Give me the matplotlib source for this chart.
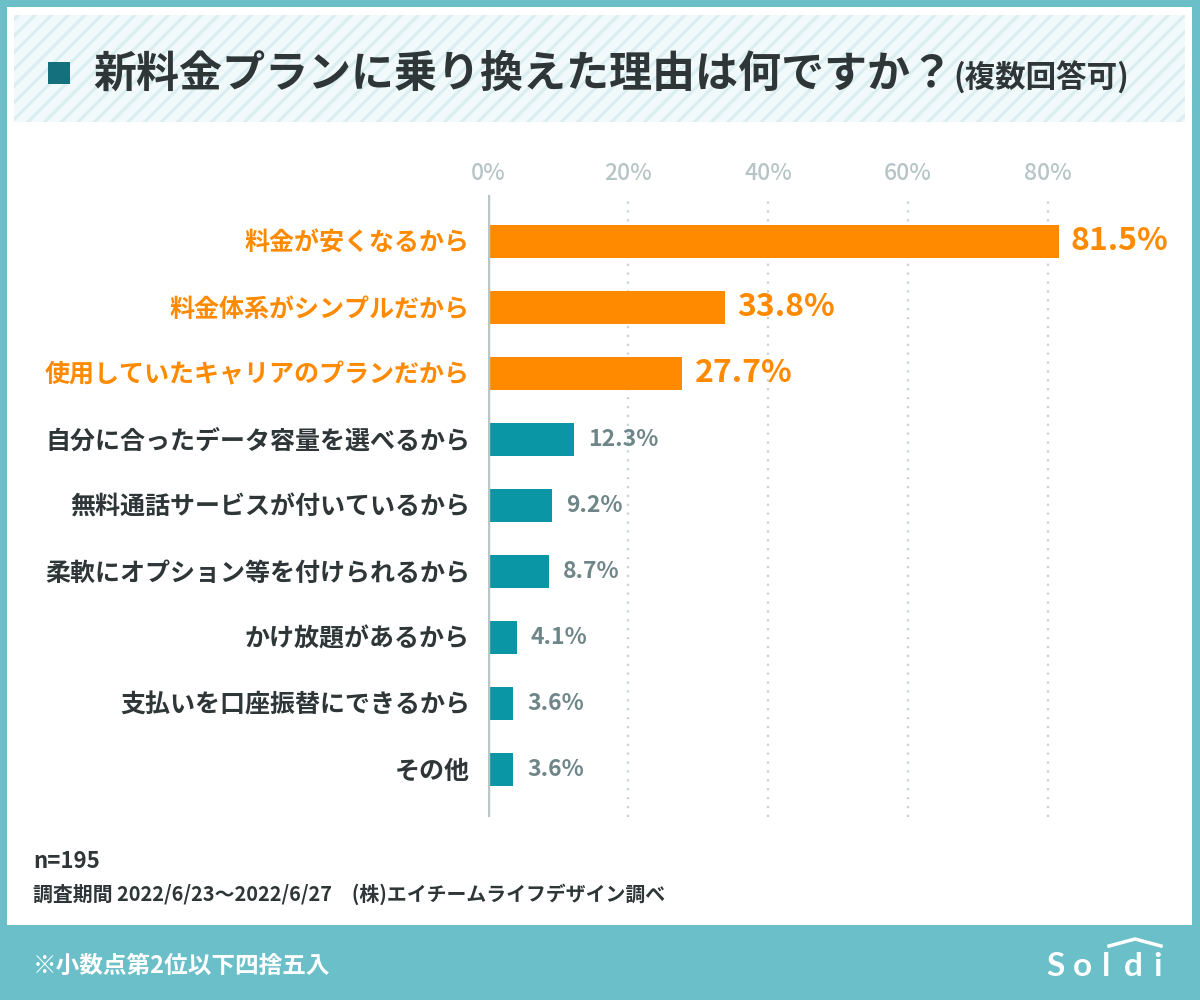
"""
新料金プランに乗り換えた理由 - horizontal bar chart (Soldi style)
"""
import matplotlib
matplotlib.use('Agg')
import matplotlib.pyplot as plt
from matplotlib.patches import Rectangle
from matplotlib.lines import Line2D

plt.rcParams['font.family'] = ['Noto Sans CJK JP', 'DejaVu Sans']
plt.rcParams['hatch.linewidth'] = 2.2

categories = [
    '料金が安くなるから',
    '料金体系がシンプルだから',
    '使用していたキャリアのプランだから',
    '自分に合ったデータ容量を選べるから',
    '無料通話サービスが付いているから',
    '柔軟にオプション等を付けられるから',
    'かけ放題があるから',
    '支払いを口座振替にできるから',
    'その他',
]
values = [81.5, 33.8, 27.7, 12.3, 9.2, 8.7, 4.1, 3.6, 3.6]
n_top = 3  # highlighted in orange

ticks = [0, 20, 40, 60, 80]
tick_labels = ['0%', '20%', '40%', '60%', '80%']

title = '新料金プランに乗り換えた理由は何ですか？'
subtitle = '(複数回答可)'
sample = 'n=195'
source = '調査期間 2022/6/23～2022/6/27　(株)エイチームライフデザイン調べ'
note = '※小数点第2位以下四捨五入'

BORDER = '#6bbfc9'
ORANGE = '#ff8a00'
TEAL = '#0b96a5'
DARK = '#2e3638'
GREY = '#6f8689'
TICK = '#b6c4c6'

W, H = 1200, 1000
fig = plt.figure(figsize=(12, 10), dpi=100)
fig.patch.set_facecolor(BORDER)

def px(x0, y0, x1, y1):
    # pixel box (top-left origin) -> figure fraction rect
    return (x0 / W, 1 - y1 / H), (x1 - x0) / W, (y1 - y0) / H

xy, w, h = px(7, 7, 1192, 925)
fig.patches.append(Rectangle(xy, w, h, transform=fig.transFigure,
                             facecolor='white', edgecolor='none', zorder=-3))
xy, w, h = px(14, 15, 1185, 122)
fig.patches.append(Rectangle(xy, w, h, transform=fig.transFigure,
                             facecolor='#f2f9fa', edgecolor='#d8eef0',
                             hatch='//', linewidth=0, zorder=-2))
xy, w, h = px(48, 62, 70, 84)
fig.patches.append(Rectangle(xy, w, h, transform=fig.transFigure,
                             facecolor='#15707e', edgecolor='none', zorder=-1))

fig.text(93 / W, 1 - 74 / H, title, fontsize=31, fontweight='bold',
         color=DARK, va='center', ha='left')
fig.text(953 / W, 1 - 78 / H, subtitle, fontsize=22, fontweight='bold',
         color=DARK, va='center', ha='left')

# chart area
ax = fig.add_axes([488 / W, 1 - 817 / H, 700 / W, 622 / H])
ax.patch.set_alpha(0)
ypos = list(range(len(categories)))
colors = [ORANGE if i < n_top else TEAL for i in ypos]
ax.barh(ypos, values, height=0.5, color=colors, zorder=2)
ax.set_xlim(0, 100)
ax.set_ylim(8.727, -0.697)

for i, v in enumerate(values):
    if i < n_top:
        ax.annotate(f'{v:.1f}%', (v, i), xytext=(9, 0), textcoords='offset points',
                    va='center', ha='left', fontsize=23, fontweight='bold',
                    color=ORANGE)
    else:
        ax.annotate(f'{v:.1f}%', (v, i), xytext=(10, 0), textcoords='offset points',
                    va='center', ha='left', fontsize=16.5, fontweight='bold',
                    color=GREY)

ax.set_yticks(ypos)
ax.set_yticklabels(categories, fontsize=18, fontweight='bold')
for lbl, c in zip(ax.get_yticklabels(), colors):
    lbl.set_color(ORANGE if c == ORANGE else DARK)
ax.tick_params(axis='y', length=0, pad=13)

ax.xaxis.tick_top()
ax.set_xticks(ticks)
ax.set_xticklabels(tick_labels, fontsize=16.5, color=TICK, fontweight='medium')
ax.tick_params(axis='x', length=0, pad=7)
ax.grid(axis='x', linestyle=(0, (1, 3)), color='#c8d2d4', linewidth=1.6, zorder=1)
ax.grid(axis='y', visible=False)
ax.axvline(0, color='#b9c5c7', linewidth=3.2, zorder=3)
for s in ax.spines.values():
    s.set_visible(False)

# footer
fig.text(33 / W, 1 - 861 / H, sample, fontsize=16, fontweight='bold',
         color=DARK, va='center', ha='left')
fig.text(33 / W, 1 - 894 / H, source, fontsize=14.3, fontweight='bold',
         color=DARK, va='center', ha='left')
fig.text(33 / W, 1 - 966 / H, note, fontsize=17, fontweight='bold',
         color='white', va='center', ha='left')

# Soldi logo
for ch, x in zip('Soldi', [1055, 1082, 1106, 1133, 1158]):
    fig.text(x / W, 1 - 966 / H, ch, fontsize=24, color='white',
             va='center', ha='center', family='Lato', fontweight='bold')
fig.add_artist(Line2D([1109 / W, 1135 / W, 1161 / W],
                      [1 - 946 / H, 1 - 939 / H, 1 - 946 / H],
                      transform=fig.transFigure, color='white', linewidth=2.5))

fig.savefig('out.png', dpi=100, facecolor=fig.get_facecolor())
